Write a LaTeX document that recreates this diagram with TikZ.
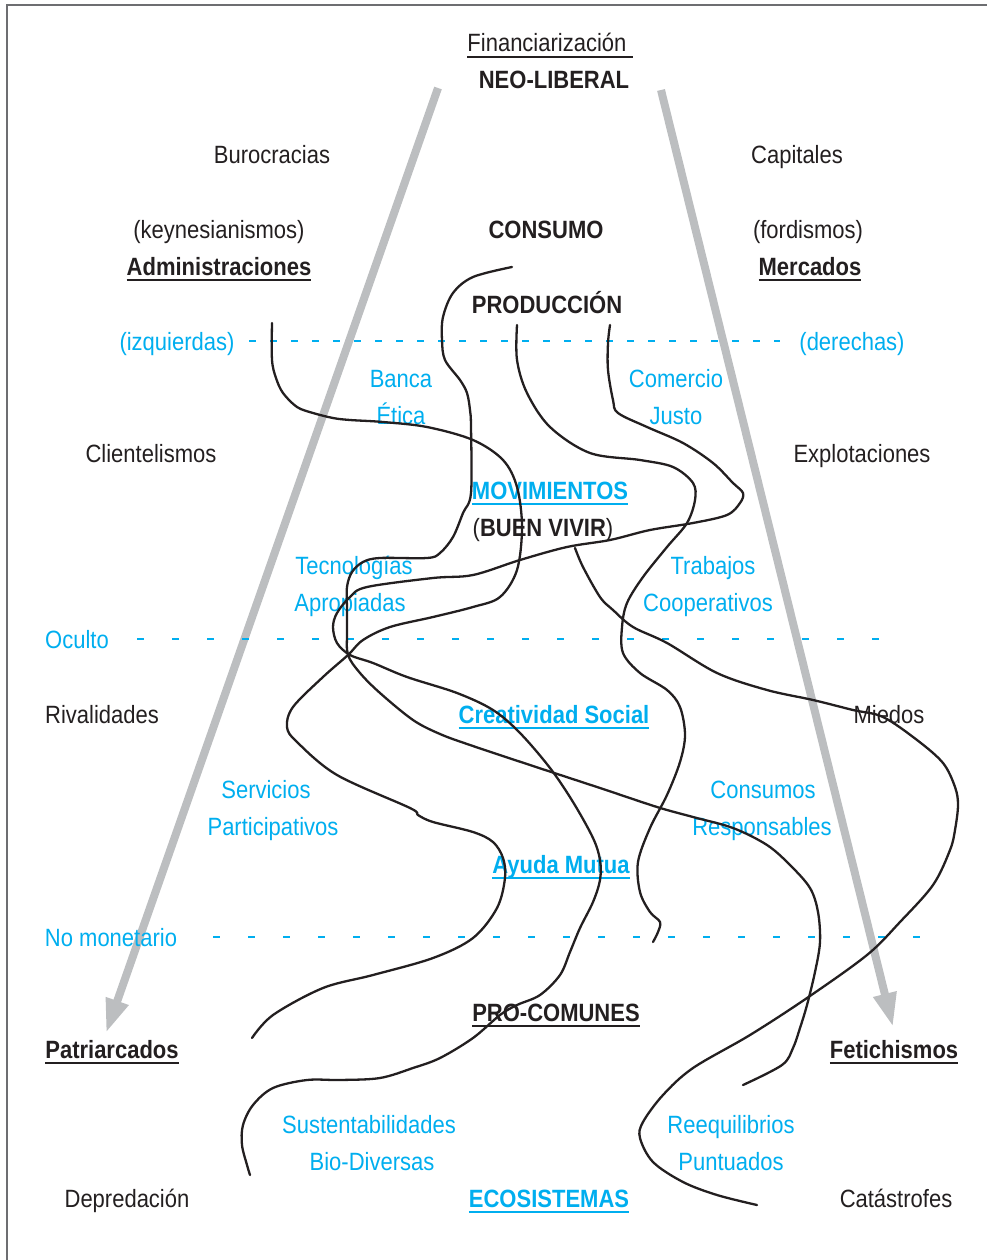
\documentclass[tikz,border=0pt]{standalone}
\usepackage{fontspec}
\setmainfont{Liberation Sans}[FakeStretch=0.88]
\usetikzlibrary{arrows.meta}
\definecolor{tblack}{HTML}{231F20}
\definecolor{tblue}{HTML}{00AEEF}
\definecolor{tgray}{HTML}{BCBEC0}
\definecolor{fgray}{HTML}{6D6E71}
\newcommand\fs{\fontsize{25}{30}\selectfont}
\newcommand\myul[1]{\setbox0\hbox{#1}\rlap{\vrule width\wd0 height -4.2pt depth 5.9pt}\box0}
\begin{document}
\begin{tikzpicture}[x=1pt,y=-1pt,
  lbl/.style={font=\fs, text=tblack, anchor=base, inner sep=0pt, outer sep=0pt},
  blbl/.style={lbl, text=tblue},
  bd/.style={lbl, font=\fs\bfseries},
  bbd/.style={bd, text=tblue},
  curve/.style={draw=tblack, line width=2.3pt, line cap=round, line join=round},
  guide/.style={draw=tblue, line width=2pt},
  guidewide/.style={guide, dash pattern=on 7pt off 28pt},
  guidenarrow/.style={guide, dash pattern=on 7pt off 14pt},
  bigarrow/.style={draw=tgray, line width=8pt, -{Triangle[length=34pt,width=22pt]}},
  frame/.style={draw=fgray, line width=2pt},
]
\useasboundingbox (0,0) rectangle (987,1260);
% frame
\coordinate (fb) at (7,1262);
\coordinate (fc) at (7,5);
\coordinate (fr) at (989,5);
\draw[frame] (fb) -- (fc) -- (fr);

% big gray arrows
\coordinate (aLs) at (438,88);
\coordinate (aLe) at (106,1033);
\coordinate (aRs) at (661,90);
\coordinate (aRe) at (893,1027);
\draw[bigarrow] (aLs) -- (aLe);
\draw[bigarrow] (aRs) -- (aRe);

% dashed guide lines
\coordinate (g1a) at (249,341);
\coordinate (g1b) at (780,341);
\coordinate (g2a) at (137,639);
\coordinate (g2b) at (881,639);
\coordinate (g3a) at (213,937);
\coordinate (g3b) at (932,937);
\draw[guidenarrow] (g1a) -- (g1b);
\draw[guidewide] (g2a) -- (g2b);
\draw[guidewide] (g3a) -- (g3b);

% labels
\node[lbl] (fin) at (550,52) {\myul{Financiarización\ }};
\node[bd] (neo) at (554,89) {NEO-LIBERAL};
\node[lbl] (buro) at (272,164) {Burocracias};
\node[lbl] (capi) at (797,164) {Capitales};
\node[lbl] (keyn) at (219,238) {(keynesianismos)};
\node[bd] (cons) at (546,238) {CONSUMO};
\node[lbl] (ford) at (808,238) {(fordismos)};
\node[bd] (admi) at (219,275) {\myul{Administraciones}};
\node[bd] (merc) at (810,275) {\myul{Mercados}};
\node[bd] (prod) at (547,313) {PRODUCCIÓN};
\node[blbl] (izq) at (177,350) {(izquierdas)};
\node[blbl] (der) at (852,350) {(derechas)};
\node[blbl] (banca) at (401,387) {Banca};
\node[blbl] (etica) at (401,424) {Ética};
\node[blbl] (come) at (676,387) {Comercio};
\node[blbl] (justo) at (676,424) {Justo};
\node[lbl] (clie) at (151,462) {Clientelismos};
\node[lbl] (expl) at (862,462) {Explotaciones};
\node[bbd] (movi) at (550,499) {\myul{MOVIMIENTOS}};
\node[lbl] (buen) at (543,536) {(\textbf{BUEN VIVIR})};
\node[blbl] (tecn) at (354,574) {Tecnologías};
\node[blbl] (apro) at (350,611) {Apropiadas};
\node[blbl] (trab) at (713,574) {Trabajos};
\node[blbl] (coop) at (708,611) {Cooperativos};
\node[blbl] (ocul) at (77,648) {Oculto};
\node[lbl] (riva) at (102,723) {Rivalidades};
\node[bbd] (crea) at (554,723) {\myul{Creatividad Social}};
\node[lbl] (mied) at (889,723) {Miedos};
\node[blbl] (serv) at (266,798) {Servicios};
\node[blbl] (part) at (273,835) {Participativos};
\node[blbl] (cnsm) at (763,798) {Consumos};
\node[blbl] (resp) at (762,835) {Responsables};
\node[bbd] (ayud) at (561,873) {\myul{Ayuda Mutua}};
\node[blbl] (nomo) at (111,946) {No monetario};
\node[bd] (proc) at (556,1021) {\myul{PRO-COMUNES}};
\node[bd] (patr) at (112,1058) {\myul{Patriarcados}};
\node[bd] (feti) at (894,1058) {\myul{Fetichismos}};
\node[blbl] (sust) at (369,1133) {Sustentabilidades};
\node[blbl] (biod) at (372,1170) {Bio-Diversas};
\node[blbl] (reeq) at (731,1133) {Reequilibrios};
\node[blbl] (punt) at (731,1170) {Puntuados};
\node[lbl] (depr) at (127,1207) {Depredación};
\node[bbd] (ecos) at (549,1207) {\myul{ECOSISTEMAS}};
\node[lbl] (cata) at (896,1207) {Catástrofes};

% free-hand curves
\draw[curve] plot[smooth, tension=0.55] coordinates {
 (272,323) (272,360) (276,378) (283,393) (297,407) (313,413) (333,418) (350,420)
 (383,422) (427,427) (473,440) (503,460) (517,487) (522,527) (517,570)
 (500,597) (473,607) (433,617) (390,627) (363,640) (348,655) (323,677)
 (293,707) (287,727) (297,742) (337,775) (410,808) (418,815) (433,822)
 (473,832) (493,842) (503,858) (505,878) (497,908) (473,938) (433,958)
 (373,975) (323,988) (273,1015) (252,1038)};
\draw[curve] plot[smooth, tension=0.55] coordinates {
 (512,267) (473,277) (453,293) (443,317) (442,340) (445,360) (460,380)
 (467,393) (470,410) (471,427) (471,493) (463,513) (453,537) (440,553)
 (427,558) (380,558) (363,562) (352,572) (347,587) (347,610) (347,633)
 (348,655) (360,673) (380,693) (413,720) (440,734) (470,745) (533,766)
 (600,788) (657,807) (693,817) (733,828) (767,845) (790,865) (810,888)
 (818,912) (820,942) (815,972) (807,1005) (800,1028) (793,1048) (782,1065)
 (743,1085)};
\draw[curve] plot[smooth, tension=0.55] coordinates {
 (517,325) (517,360) (527,393) (550,427) (590,453) (640,460) (673,467)
 (693,483) (695,500) (687,523) (667,547) (643,577) (627,603) (622,627)
 (623,653) (640,673) (667,690) (680,707) (685,735) (680,762) (667,795)
 (650,828) (638,862) (640,892) (650,912) (660,922) (658,932) (653,942)};
\draw[curve] plot[smooth, tension=0.55] coordinates {
 (610,325) (608,343) (608,370) (613,400) (618,413) (647,427) (683,443)
 (713,463) (733,483) (743,493) (740,503) (727,515) (693,523) (650,530)
 (610,540) (567,547) (520,560) (473,575) (433,578) (367,587) (350,597)
 (337,613) (333,627) (337,643) (350,655) (373,663) (407,677) (457,693)
 (493,710) (520,733) (550,768) (573,802) (593,838) (600,860) (600,880)
 (593,902) (580,928) (570,952) (560,975) (540,995) (517,1005) (500,1015)
 (473,1038) (440,1058) (413,1068) (380,1078) (340,1080) (307,1080)
 (273,1088) (253,1105) (243,1125) (242,1145) (247,1165) (250,1175)};
\draw[curve] plot[smooth, tension=0.55] coordinates {
 (575,548) (583,567) (600,597) (613,610) (633,627) (667,643) (717,673)
 (767,690) (813,700) (853,710) (883,717) (917,740) (943,763) (955,787)
 (958,805) (955,830) (950,850) (933,885) (900,922) (867,955) (807,998)
 (750,1035) (693,1068) (663,1095) (643,1122) (640,1138) (653,1162)
 (683,1182) (717,1195) (757,1205)};
\end{tikzpicture}
\end{document}
